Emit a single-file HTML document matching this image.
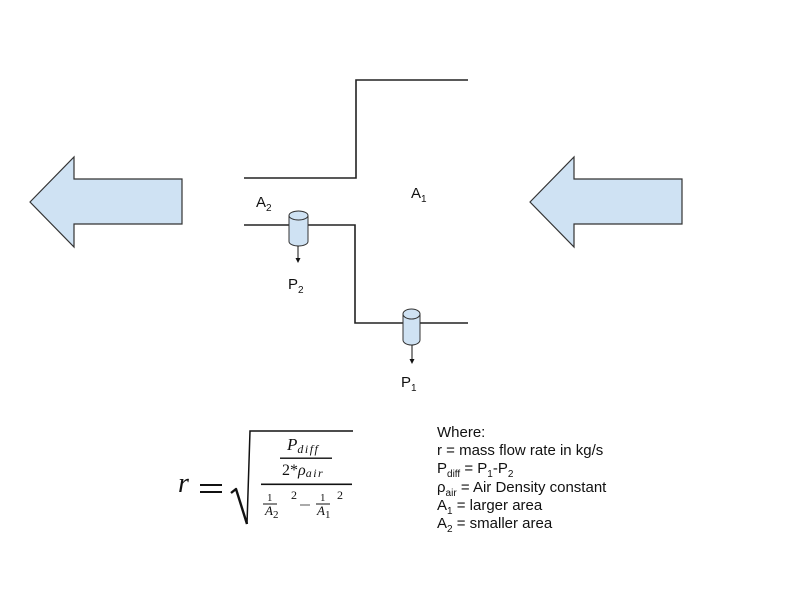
<!DOCTYPE html>
<html><head><meta charset="utf-8"><style>
html,body{margin:0;padding:0;background:#fff;}
svg{display:block;}
.s{font-family:"Liberation Sans",sans-serif;fill:#111;}
.m{font-family:"Liberation Serif",serif;font-style:italic;fill:#111;}
.mn{font-family:"Liberation Serif",serif;fill:#111;}
</style></head><body>
<svg width="800" height="600" viewBox="0 0 800 600" xmlns="http://www.w3.org/2000/svg">
<rect width="800" height="600" fill="#fff"/>
<!-- arrows -->
<polygon points="30,202 74,157 74,179 182,179 182,224 74,224 74,247" fill="#cfe2f3" stroke="#333" stroke-width="1.2" stroke-linejoin="miter"/>
<polygon points="530,202 574,157 574,179 682,179 682,224 574,224 574,247" fill="#cfe2f3" stroke="#333" stroke-width="1.2"/>
<!-- pipe -->
<polyline points="468,80 356,80 356,178 244,178" fill="none" stroke="#222" stroke-width="1.6"/>
<polyline points="244,225 355,225 355,323 468,323" fill="none" stroke="#222" stroke-width="1.6"/>
<!-- cylinder P2 -->
<path d="M289,215.5 L289,241.5 A9.5,4.5 0 0 0 308,241.5 L308,215.5" fill="#cfe2f3" stroke="#333" stroke-width="1"/>
<ellipse cx="298.5" cy="215.5" rx="9.5" ry="4.5" fill="#cfe2f3" stroke="#333" stroke-width="1"/>
<line x1="298" y1="246" x2="298" y2="259" stroke="#111" stroke-width="1"/>
<polygon points="295.5,258 300.5,258 298,263" fill="#111"/>
<!-- cylinder P1 -->
<path d="M403,314 L403,340 A8.5,5 0 0 0 420,340 L420,314" fill="#cfe2f3" stroke="#333" stroke-width="1"/>
<ellipse cx="411.5" cy="314" rx="8.5" ry="5" fill="#cfe2f3" stroke="#333" stroke-width="1"/>
<line x1="412" y1="345" x2="412" y2="360" stroke="#111" stroke-width="1"/>
<polygon points="409.5,359 414.5,359 412,364" fill="#111"/>
<!-- labels -->
<text class="s" x="256" y="207" font-size="15">A<tspan font-size="10" dy="4">2</tspan></text>
<text class="s" x="411" y="198" font-size="15">A<tspan font-size="10" dy="4">1</tspan></text>
<text class="s" x="288" y="289" font-size="15">P<tspan font-size="10" dy="4">2</tspan></text>
<text class="s" x="401" y="387" font-size="15">P<tspan font-size="10" dy="4">1</tspan></text>
<!-- formula -->
<text class="m" x="178" y="492" font-size="28">r</text>
<rect x="200" y="484" width="22" height="2" fill="#111"/>
<rect x="200" y="491" width="22" height="2" fill="#111"/>
<path d="M231,493 L236,489 L247,524" fill="none" stroke="#111" stroke-width="2.4" stroke-linejoin="round"/>
<polyline points="247,524 250,431 353,431" fill="none" stroke="#111" stroke-width="1.5"/>
<text class="m" x="287" y="450" font-size="17">P<tspan font-size="12" dy="3" letter-spacing="1.5">diff</tspan></text>
<rect x="280" y="457.5" width="52" height="1.4" fill="#111"/>
<text class="mn" x="282" y="475" font-size="16">2*<tspan font-style="italic">ρ</tspan><tspan font-style="italic" font-size="12" dy="2" letter-spacing="1.5">air</tspan></text>
<rect x="261" y="483.5" width="91" height="1.6" fill="#111"/>
<text class="mn" x="267" y="501" font-size="11">1</text>
<rect x="263" y="503.5" width="14" height="1" fill="#111"/>
<text class="m" x="265" y="515" font-size="13">A<tspan font-style="normal" font-size="11" dy="3">2</tspan></text>
<text class="mn" x="291" y="499" font-size="12">2</text>
<rect x="300" y="504.5" width="10" height="1" fill="#555"/>
<text class="mn" x="320" y="501" font-size="11">1</text>
<rect x="316" y="503.5" width="14" height="1" fill="#111"/>
<text class="m" x="317" y="515" font-size="13">A<tspan font-style="normal" font-size="11" dy="3">1</tspan></text>
<text class="mn" x="337" y="499" font-size="12">2</text>
<!-- where -->
<text class="s" x="437" y="437" font-size="15">Where:</text>
<text class="s" x="437" y="455" font-size="15">r = mass flow rate in kg/s</text>
<text class="s" x="437" y="473" font-size="15">P<tspan font-size="10" dy="4">diff</tspan><tspan dy="-4"> = P</tspan><tspan font-size="10" dy="4">1</tspan><tspan dy="-4">-P</tspan><tspan font-size="10" dy="4">2</tspan></text>
<text class="s" x="437" y="492" font-size="15">ρ<tspan font-size="10" dy="4">air</tspan><tspan dy="-4"> = Air Density constant</tspan></text>
<text class="s" x="437" y="510" font-size="15">A<tspan font-size="10" dy="4">1</tspan><tspan dy="-4"> = larger area</tspan></text>
<text class="s" x="437" y="528" font-size="15">A<tspan font-size="10" dy="4">2</tspan><tspan dy="-4"> = smaller area</tspan></text>
</svg>
</body></html>
